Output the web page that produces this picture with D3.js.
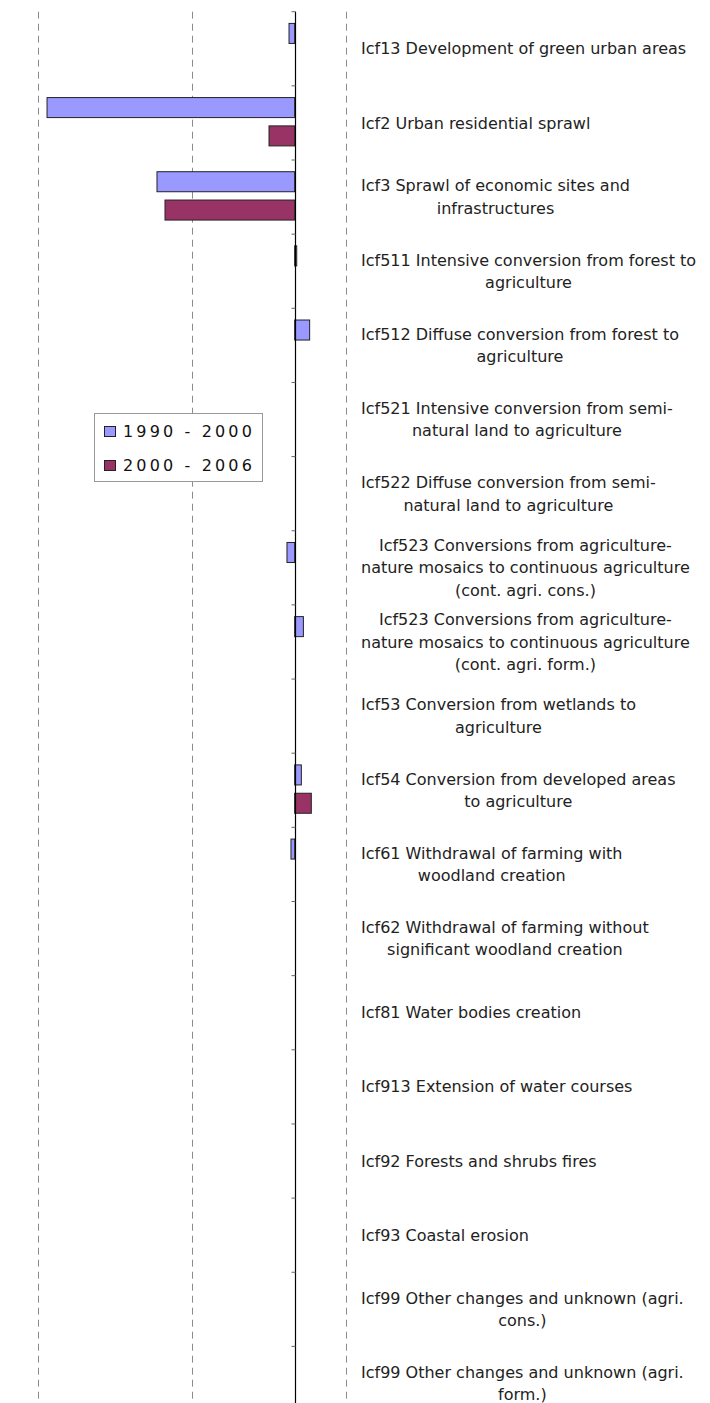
<!DOCTYPE html>
<html><head><meta charset="utf-8">
<script src="https://cdn.jsdelivr.net/npm/d3@7"></script>
<style>body{margin:0;background:#fff}svg{display:block}</style>
</head><body>
<svg id="c" width="710" height="1403"></svg>
<script>
const categories = [
  "Icf13 Development of green urban areas",
  "Icf2 Urban residential sprawl",
  "Icf3 Sprawl of economic sites and\ninfrastructures",
  "Icf511 Intensive conversion from forest to\nagriculture",
  "Icf512 Diffuse conversion from forest to\nagriculture",
  "Icf521 Intensive conversion from semi-\nnatural land to agriculture",
  "Icf522 Diffuse conversion from semi-\nnatural land to agriculture",
  "Icf523 Conversions from agriculture-\nnature mosaics to continuous agriculture\n(cont. agri. cons.)",
  "Icf523 Conversions from agriculture-\nnature mosaics to continuous agriculture\n(cont. agri. form.)",
  "Icf53 Conversion from wetlands to\nagriculture",
  "Icf54 Conversion from developed areas\nto agriculture",
  "Icf61 Withdrawal of farming with\nwoodland creation",
  "Icf62 Withdrawal of farming without\nsignificant woodland creation",
  "Icf81 Water bodies creation",
  "Icf913 Extension of water courses",
  "Icf92 Forests and shrubs fires",
  "Icf93 Coastal erosion",
  "Icf99 Other changes and unknown (agri.\ncons.)",
  "Icf99 Other changes and unknown (agri.\nform.)"
];
const seriesNames = ["1990 - 2000", "2000 - 2006"];
const values1990 = [-55, -2412, -1341, 20, 146, 0, 0, -75, 85, 0, 65, -36, 0, 0, 0, 0, 0, 0, 0];
const values2000 = [0, -250, -1263, 0, 0, 0, 0, 0, 0, 0, 162, 0, 0, 0, 0, 0, 0, 0, 0];
const gridValues = [-2500, -1000, 500];
const colors = ["#9999ff", "#993366"];

const svg = d3.select("#c");
const x = d3.scaleLinear().domain([-2500, 500]).range([38, 346]);
const bandStep = 74.15;
const plotTop = 11.7;
const y = d3.scaleBand().domain(d3.range(categories.length))
  .range([plotTop, plotTop + bandStep * categories.length]).padding(0);

// gridlines
svg.append("g").selectAll("line").data(gridValues).join("line")
  .attr("x1", d => Math.round(x(d)) + 0.5).attr("x2", d => Math.round(x(d)) + 0.5)
  .attr("y1", plotTop).attr("y2", 1403)
  .attr("stroke", "#8c8c8c").attr("stroke-width", 1).attr("stroke-dasharray", "7,5");

// bars
const series = [values1990, values2000];
const offs = [0.158, 0.54];
const bh = 0.27;
series.forEach((vals, si) => {
  svg.append("g").selectAll("rect").data(vals.map((v, i) => ({v, i})).filter(d => d.v))
    .join("rect")
    .attr("x", d => Math.min(x(0), x(d.v)))
    .attr("width", d => Math.abs(x(d.v) - x(0)))
    .attr("y", d => y(d.i) + y.bandwidth() * offs[si])
    .attr("height", y.bandwidth() * bh)
    .attr("fill", colors[si]).attr("stroke", "#222").attr("stroke-width", 1);
});

// axis line and ticks
const x0 = Math.round(x(0)) + 0.5;
svg.append("line").attr("x1", x0).attr("x2", x0).attr("y1", plotTop).attr("y2", 1403)
  .attr("stroke", "#000").attr("stroke-width", 1.2);
svg.append("g").selectAll("line").data(d3.range(categories.length + 1)).join("line")
  .attr("x1", x0 - 4).attr("x2", x0)
  .attr("y1", i => plotTop + i * bandStep).attr("y2", i => plotTop + i * bandStep)
  .attr("stroke", "#666").attr("stroke-width", 1);

// labels
const lh = 22.5;
const lg = svg.append("g").attr("font-family", "DejaVu Sans, Verdana, sans-serif")
  .attr("font-size", 16).attr("fill", "#222");
categories.forEach((c, i) => {
  const lines = c.split("\n");
  const cy = y(i) + y.bandwidth() / 2;
  const g = lg.append("g");
  const ts = lines.map((l, k) => g.append("text").text(l)
    .attr("y", cy + (k - (lines.length - 1) / 2) * lh).attr("dy", "0.35em")
    .attr("text-anchor", "middle"));
  const maxW = d3.max(ts, t => t.node().getComputedTextLength());
  ts.forEach(t => t.attr("x", 361 + maxW / 2));
});

// legend
const leg = svg.append("g");
leg.append("rect").attr("x", 94.5).attr("y", 413.5).attr("width", 168).attr("height", 68)
  .attr("fill", "#fff").attr("stroke", "#999").attr("stroke-width", 1);
seriesNames.forEach((n, i) => {
  const cy = 431 + i * 34;
  leg.append("rect").attr("x", 104.5).attr("y", cy - 4.5).attr("width", 11).attr("height", 10)
    .attr("fill", colors[i]).attr("stroke", "#222").attr("stroke-width", 1);
  leg.append("text").attr("x", 123).attr("y", cy).attr("dy", "0.35em")
    .attr("font-family", "DejaVu Sans, Verdana, sans-serif").attr("font-size", 16)
    .attr("letter-spacing", 3.15).attr("fill", "#111").text(n);
});
</script>
</body></html>
